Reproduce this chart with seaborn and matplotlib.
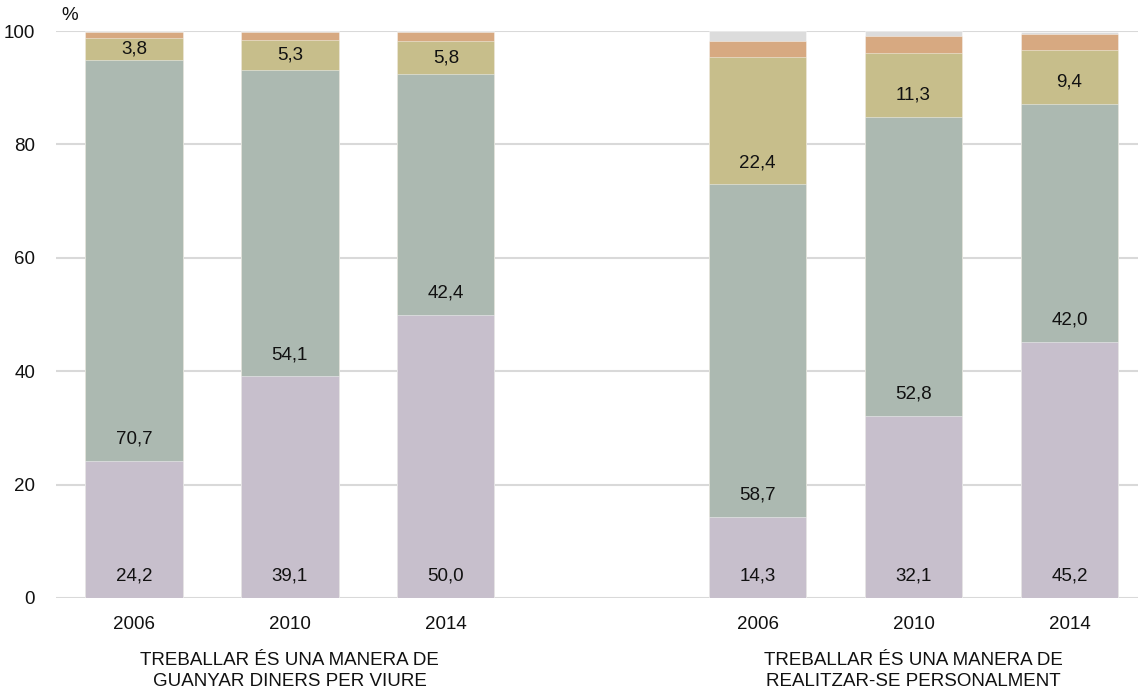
import numpy as np
import pandas as pd
import matplotlib
matplotlib.use("Agg")
import matplotlib.pyplot as plt
import matplotlib.transforms as mtransforms
import seaborn as sns

# ---- data ----
years = ["2006", "2010", "2014", "2006", "2010", "2014"]
group_labels = ["TREBALLAR ÉS UNA MANERA DE\nGUANYAR DINERS PER VIURE",
                "TREBALLAR ÉS UNA MANERA DE\nREALITZAR-SE PERSONALMENT"]
series_names = ["s1", "s2", "s3", "s4", "s5"]
s1 = [24.2, 39.1, 50.0, 14.3, 32.1, 45.2]
s2 = [70.7, 54.1, 42.4, 58.7, 52.8, 42.0]
s3 = [3.8, 5.3, 5.8, 22.4, 11.3, 9.4]
s4 = [1.2, 1.3, 1.7, 2.9, 3.0, 2.9]
s5 = [0.1, 0.2, 0.1, 1.7, 0.8, 0.3]
labelled = [True, True, True, False, False]

colors = ["#C7BFCC", "#ACB9B1", "#C7BE8B", "#D7A981", "#DCDCDC"]
positions = [0, 1, 2, 4, 5, 6]

sns.set_theme(style="white")
plt.rcParams["font.family"] = ["Liberation Sans", "DejaVu Sans"]
FS = 13.5

fig = plt.figure(figsize=(11.38, 6.9), dpi=100)
ax = fig.add_axes([56 / 1138, 1 - 598 / 690, 1 - 56 / 1138, (598 - 31) / 690])

all_series = [s1, s2, s3, s4, s5]
rows = []
for si, vals in enumerate(all_series):
    for p, v in zip(positions, vals):
        rows.append({"pos": p, "series": series_names[si], "value": v})
df = pd.DataFrame(rows)
df["cum"] = df.groupby("pos")["value"].cumsum()
df["bottom"] = df["cum"] - df["value"]

# draw from the top segment down (overlapping cumulative bars)
for si in range(len(series_names) - 1, -1, -1):
    sub = df[df["series"] == series_names[si]]
    sns.barplot(data=sub, x="pos", y="cum", native_scale=True, color=colors[si],
                width=0.625, saturation=1, edgecolor=(1, 1, 1, 0.5), linewidth=0.6,
                ax=ax, zorder=2)

# value labels
for si in range(len(series_names)):
    if not labelled[si]:
        continue
    sub = df[df["series"] == series_names[si]]
    for _, r in sub.iterrows():
        y = min(r["bottom"] + 3.8, r["bottom"] + r["value"] / 2)
        ax.text(r["pos"], y, f"{r['value']:.1f}".replace(".", ","), ha="center",
                va="center", fontsize=FS, color="#111111", zorder=5)

ax.set_xlim(-0.5, 6.44)
ax.set_ylim(0, 100)
ax.set_yticks([0, 20, 40, 60, 80, 100])
ax.set_xticks(positions)
ax.set_xticklabels(years)
ax.tick_params(axis="x", length=0, pad=13, labelsize=FS, colors="#111111")
ax.tick_params(axis="y", length=0, pad=15, labelsize=FS, colors="#111111")
ax.set_xlabel("")
ax.set_ylabel("")
ax.yaxis.grid(True, color="#D9D9D9", linewidth=1.5)
ax.xaxis.grid(False)
ax.set_axisbelow(True)
for s in ax.spines.values():
    s.set_visible(False)

trans = mtransforms.blended_transform_factory(ax.transData, fig.transFigure)
ax.text(1, 1 - 671 / 690, group_labels[0], transform=trans, ha="center", va="center",
        fontsize=FS, color="#111111", linespacing=1.25)
ax.text(5, 1 - 671 / 690, group_labels[1], transform=trans, ha="center", va="center",
        fontsize=FS, color="#111111", linespacing=1.25)
fig.text(70 / 1138, 1 - 15 / 690, "%", ha="center", va="center", fontsize=FS, color="#111111")

fig.savefig("out.png", dpi=100)
